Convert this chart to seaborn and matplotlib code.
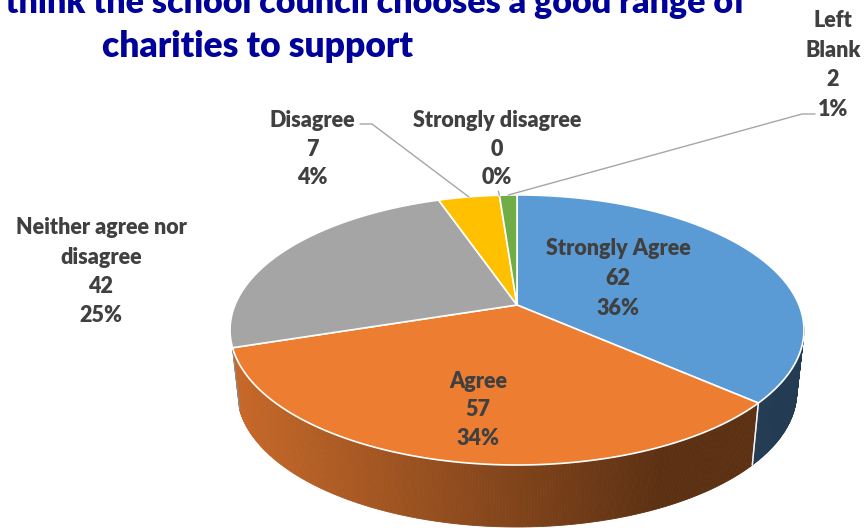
import numpy as np
import matplotlib
matplotlib.use("Agg")
import matplotlib.pyplot as plt
import seaborn as sns
from matplotlib.patches import Polygon

# ---------------- data ----------------
categories = ["Strongly Agree", "Agree", "Neither agree nor disagree",
              "Disagree", "Strongly disagree", "Left Blank"]
counts = [62, 57, 42, 7, 0, 2]
percent_labels = ["36%", "34%", "25%", "4%", "0%", "1%"]
label_names = ["Strongly Agree", "Agree", "Neither agree nor\ndisagree",
               "Disagree", "Strongly disagree", "Left\nBlank"]
title_lines = ["I think the school council chooses a good range of",
               "charities to support"]

# ---------------- style ----------------
sns.set_theme(style="white")
palette = sns.color_palette(["#5B9BD5", "#ED7D31", "#A5A5A5",
                             "#FFC000", "#4472C4", "#70AD47"])
plt.rcParams['font.family'] = ['Lato', 'DejaVu Sans']
TEXT_COL = "#404040"
TITLE_COL = "#00009A"
LEADER_COL = "#A6A6A6"

W, H = 864, 528
fig = plt.figure(figsize=(W / 100, H / 100), dpi=100)
ax = fig.add_axes([0, 0, 1, 1])
ax.set_xlim(0, W)
ax.set_ylim(H, 0)
ax.axis('off')

# ---------------- 3-D pie projection ----------------
CX, CY = 517, 305        # apex of the top face (pixels)
A, B, K = 282, 130.4, 0.185
DEPTH, SHRINK = 62, 0.975


def proj(theta_deg, r=1.0, bottom=False):
    t = np.radians(theta_deg)
    x = r * np.cos(t)
    y = r * np.sin(t)
    d = 1 + K * y
    X = CX + A * x / d
    Y = CY - B * y / d
    if bottom:
        X = CX + SHRINK * (X - CX)
        Y = Y + DEPTH
    return X, Y


vals = np.array(counts, dtype=float)
fracs = vals / vals.sum()
starts = 90 - np.concatenate([[0], np.cumsum(fracs)[:-1]]) * 360
ends = starts - fracs * 360

# visible front wall range
sil = np.degrees(np.arcsin(K))
front_lo, front_hi = -180 + sil + 7.0, -sil + 1.5


def shade(color, X):
    f = 0.84 - 0.00105 * (X - 232)
    f = max(0.39, min(0.86, f))
    return tuple(c * f for c in color)


# side walls
for i, (s, e) in enumerate(zip(starts, ends)):
    if fracs[i] <= 0:
        continue
    lo, hi = max(e, front_lo), min(s, front_hi)
    if lo >= hi:
        continue
    th = np.arange(lo, hi, 0.5)
    th = np.append(th, hi)
    for t1, t2 in zip(th[:-1], th[1:]):
        x1, y1 = proj(t1)
        x2, y2 = proj(t2)
        bx1, by1 = proj(t1, bottom=True)
        bx2, by2 = proj(t2, bottom=True)
        col = shade(palette[i], (x1 + x2) / 2)
        ax.add_patch(Polygon([(x1, y1), (x2, y2), (bx2, by2), (bx1, by1)],
                             closed=True, facecolor=col, edgecolor=col,
                             lw=0.6, zorder=1))
    # boundary line on the wall (skip near the silhouette)
    for t in (lo, hi):
        if front_lo + 5 < t < front_hi - 5:
            x1, y1 = proj(t)
            bx1, by1 = proj(t, bottom=True)
            ax.plot([x1, bx1], [y1, by1], color="white", lw=1.0,
                    alpha=0.8, zorder=2)

# top face
for i, (s, e) in enumerate(zip(starts, ends)):
    if fracs[i] <= 0:
        continue
    th = np.linspace(s, e, max(4, int(abs(s - e) * 2)))
    pts = [(CX, CY)] + [proj(t) for t in th]
    ax.add_patch(Polygon(pts, closed=True, facecolor=palette[i],
                         edgecolor="white", lw=1.2, joinstyle="round",
                         zorder=3))

# ---------------- labels ----------------
LBL_FS = 15.5


def block(x, y0, lines, gap):
    for j, ln in enumerate(lines):
        ax.text(x, y0 + j * gap, ln, ha="center", va="baseline",
                fontsize=LBL_FS, fontweight="heavy", color=TEXT_COL,
                zorder=6)


label_anchor = {  # x centre, first baseline, line gap
    0: (618, 255, 30),
    1: (478, 388, 28.5),
    2: (101, 234, 29.5),
    3: (312, 127, 28.5),
    4: (497, 127, 28.5),
    5: (833, 27, 29.7),
}
for i in range(len(categories)):
    x, y0, gap = label_anchor[i]
    lines = label_names[i].split("\n") + [str(counts[i]), percent_labels[i]]
    block(x, y0, lines, gap)

# leader lines
mid = (starts + ends) / 2
xd, yd = proj(mid[3])
ax.plot([360, 372, xd], [124, 124, yd], color=LEADER_COL, lw=1.0, zorder=5)
xs, ys = proj(mid[4])
ax.plot([xs - 1, xs], [ys - 4, ys], color=LEADER_COL, lw=1.0, zorder=5)
xl, yl = proj(mid[5])
ax.plot([xl, 802, 815], [yl, 114, 114], color=LEADER_COL, lw=1.0, zorder=5)

# ---------------- title ----------------
ax.text(746, 13, title_lines[0], ha="right", va="baseline", fontsize=24.5,
        fontweight="heavy", color=TITLE_COL, zorder=7)
ax.text(258, 57, title_lines[1], ha="center", va="baseline", fontsize=25.5,
        fontweight="heavy", color=TITLE_COL, zorder=7)

fig.savefig("out.png", dpi=100, facecolor="white")
